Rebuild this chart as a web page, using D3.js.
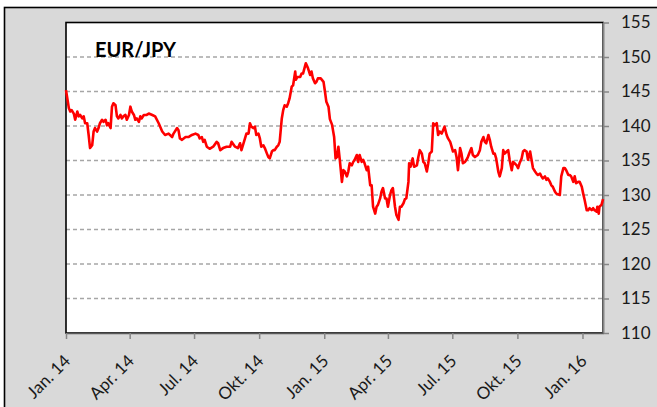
<!DOCTYPE html>
<html>
<head>
<meta charset="utf-8">
<script src="https://cdn.jsdelivr.net/npm/d3@7"></script>
<style>
  body { margin: 0; background: #fff; }
  svg { display: block; font-family: Lato, "Open Sans", sans-serif; }
</style>
</head>
<body>
<svg id="chart" width="657" height="407"></svg>
<script>
// series: days counted from the first date, EUR/JPY close
const startDay = '2014-01-01';
const dayNo = [0,4,6,8,11,13,16,18,20,23,25,27,30,32,34,37,39,41,44,46,48,51,53,56,58,60,63,65,67,70,72,74,77,79,81,84,86,89,91,93,96,98,100,103,105,107,110,114,117,122,126,131,136,140,145,150,152,157,159,161,164,169,173,178,183,
  187,189,192,194,196,199,203,208,213,215,218,222,227,232,234,239,243,246,248,253,255,258,260,262,265,267,269,272,274,276,279,281,284,286,288,291,293,295,298,300,302,305,307,309,312,314,316,319,321,324,325,327,331,333,335,339,342,345,347,349,352,354,356,360,364,366,
  368,371,373,376,379,381,383,385,387,390,392,394,397,399,401,404,406,408,411,413,415,418,420,422,425,427,430,432,434,437,439,441,444,446,448,451,453,455,458,460,462,465,467,470,472,474,477,479,481,484,485,487,490,492,496,498,500,503,505,507,510,512,514,517,519,521,524,526,528,531,533,535,538,540,543,545,547,550,552,554,
  557,559,561,564,566,568,571,573,575,578,582,585,587,590,592,594,597,599,601,604,606,608,611,613,616,618,620,623,625,627,630,632,634,637,639,641,644,646,648,651,653,656,658,660,663,665,667,670,672,674,677,679,681,684,686,688,691,693,698,700,703,705,707,710,712,714,717,719,721,724,726,729,731,733,736,738,740,743,745,747,750,751,753,754,757,759];
const eurJpy = [145.2,142.6,142.1,142.3,141.8,140.9,142.1,141.4,141.6,141.1,141.4,140.4,140.4,138.7,136.8,137.2,139.2,139.7,139.2,139.7,140.4,140.9,140.6,140.9,140.1,140.4,139.7,142.8,143.3,143.0,141.4,141.1,141.6,141.1,141.4,141.6,140.9,141.6,142.8,142.1,141.6,140.9,141.1,140.6,141.4,141.1,141.6,141.6,141.8,141.6,141.4,140.4,139.2,138.7,138.9,138.4,138.9,139.7,139.4,138.2,138.0,138.4,138.4,138.7,138.9,
  138.7,138.2,138.4,137.7,138.0,137.0,136.7,137.0,137.7,137.5,136.5,136.8,137.0,137.0,137.7,137.0,136.8,137.5,136.5,138.2,138.9,138.9,140.4,139.9,139.7,139.9,138.7,138.9,138.2,137.0,137.2,136.8,136.0,135.5,135.3,136.3,136.5,136.5,137.0,137.2,137.7,141.1,142.3,143.0,142.8,143.3,144.0,145.7,145.9,147.9,146.7,147.1,147.1,147.6,147.6,149.1,148.4,147.4,147.9,146.9,146.2,146.4,146.9,146.9,146.4,145.0,
  143.5,142.8,141.0,140.2,138.4,135.3,135.5,137.0,135.1,131.9,133.6,133.4,132.7,133.4,134.6,134.3,134.8,135.1,135.8,134.8,135.8,134.8,135.1,134.6,133.6,134.1,131.4,131.4,128.3,127.3,128.3,128.6,129.5,130.5,131.0,129.5,129.5,128.3,130.0,130.7,131.0,128.3,127.1,126.4,128.3,128.3,128.8,129.4,129.5,131.9,134.6,134.1,135.3,134.1,134.3,135.5,136.5,136.0,134.8,134.6,133.4,134.6,136.0,136.3,140.4,140.1,140.4,138.7,139.2,138.9,139.4,139.9,138.7,138.2,137.7,137.0,136.3,136.5,135.5,133.6,
  136.8,136.0,134.6,134.8,135.1,135.5,136.3,136.8,135.8,135.5,135.8,136.5,137.7,138.4,137.7,137.5,138.7,138.0,137.0,136.0,136.0,135.3,133.4,132.7,133.9,136.5,136.0,136.3,136.5,135.1,133.6,134.8,134.6,134.3,133.9,134.6,135.3,136.3,136.5,136.3,135.1,136.3,135.1,133.9,133.4,133.1,132.9,133.1,132.7,132.4,132.7,132.2,132.4,131.9,131.4,131.2,130.5,130.2,130.0,132.7,133.9,133.9,133.6,132.9,132.9,132.7,131.9,132.7,131.7,131.9,131.9,131.2,130.2,129.3,127.8,127.8,128.1,127.8,128.1,127.8,127.6,128.3,127.3,128.3,128.6,129.4];

const tickDates = ['2014-01-01','2014-04-01','2014-07-01','2014-10-01','2015-01-01','2015-04-01','2015-07-01','2015-10-01','2016-01-01'];
const tickLabels = ['Jan. 14','Apr. 14','Jul. 14','Okt. 14','Jan. 15','Apr. 15','Jul. 15','Okt. 15','Jan. 16'];
const yTicks = [110,115,120,125,130,135,140,145,150,155];
const title = 'EUR/JPY';

const parse = d3.utcParse('%Y-%m-%d');
const base = parse(startDay);
const data = dayNo.map((d, i) => ({ date: d3.utcDay.offset(base, d), value: eurJpy[i] }));

const plotL = 66, plotR = 603, plotT = 22.5, plotB = 333;

const x = d3.scaleUtc().domain(d3.extent(data, d => d.date)).range([plotL, plotR]);
const y = d3.scaleLinear().domain([110, 155]).range([plotB, plotT]);

const svg = d3.select('#chart');

// grey outer frame
svg.append('rect')
  .attr('x', 4.5).attr('y', 7.5).attr('width', 720).attr('height', 520)
  .attr('fill', '#d9d9d9').attr('stroke', '#000').attr('stroke-width', 1.6);

// plot area
svg.append('rect')
  .attr('x', plotL).attr('y', plotT).attr('width', plotR - plotL).attr('height', plotB - plotT)
  .attr('fill', '#fff');

// dashed grid
svg.append('g').selectAll('line')
  .data(yTicks.filter(v => v > 110 && v < 155))
  .join('line')
  .attr('x1', plotL).attr('x2', plotR)
  .attr('y1', d => y(d)).attr('y2', d => y(d))
  .attr('stroke', '#a6a6a6').attr('stroke-width', 1.3).attr('stroke-dasharray', '4,3');

svg.append('rect')
  .attr('x', plotL).attr('y', plotT).attr('width', plotR - plotL).attr('height', plotB - plotT)
  .attr('fill', 'none').attr('stroke', '#000').attr('stroke-width', 1.6);

// right axis
const yAxis = svg.append('g')
  .attr('transform', `translate(${plotR},0)`)
  .call(d3.axisRight(y).tickValues(yTicks).tickSize(6).tickSizeOuter(0).tickPadding(12));
yAxis.select('.domain').attr('stroke', '#868686').attr('stroke-width', 2);
yAxis.selectAll('.tick line').attr('stroke', '#868686').attr('stroke-width', 1.5);
yAxis.selectAll('text').attr('font-size', 17).attr('fill', '#1a1a1a')
  .attr('font-family', 'Lato, "Open Sans", sans-serif');

// bottom axis
const xAxis = svg.append('g')
  .attr('transform', `translate(0,${plotB})`)
  .call(d3.axisBottom(x).tickValues(tickDates.map(parse)).tickSize(6).tickSizeOuter(0)
    .tickFormat((d, i) => tickLabels[i]));
xAxis.select('.domain').attr('stroke', '#595959').attr('stroke-width', 1.6);
xAxis.selectAll('.tick line').attr('stroke', '#868686').attr('stroke-width', 1.5);
xAxis.selectAll('text')
  .attr('x', 0).attr('y', 0).attr('dy', 0)
  .attr('text-anchor', 'end')
  .attr('transform', 'translate(5,29) rotate(-45)')
  .attr('font-size', 17).attr('fill', '#1a1a1a')
  .attr('font-family', 'Lato, "Open Sans", sans-serif');

// the series
const line = d3.line().x(d => x(d.date)).y(d => y(d.value));
svg.append('path')
  .datum(data)
  .attr('d', line)
  .attr('fill', 'none')
  .attr('stroke', '#ff0000')
  .attr('stroke-width', 2.6)
  .attr('stroke-linejoin', 'round');

svg.append('text')
  .attr('x', 95).attr('y', 57)
  .attr('font-size', 20).attr('font-weight', 'bold').attr('fill', '#000')
  .text(title);
</script>
</body>
</html>
